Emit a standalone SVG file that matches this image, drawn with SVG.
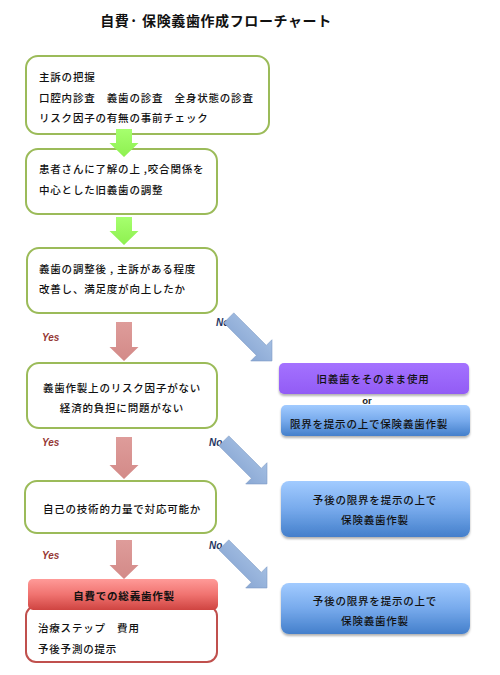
<svg xmlns="http://www.w3.org/2000/svg" width="500" height="675" viewBox="0 0 500 675">
<defs>
<style>
.t{font-family:"Noto Sans CJK JP","Noto Sans",sans-serif;font-size:10.5px;font-weight:500;letter-spacing:0.8px;fill:#111}
.c{text-anchor:middle}
.b{font-weight:bold}
.gbox{fill:#fff;stroke:#9BBB59;stroke-width:2}
.rbox{fill:#fff;stroke:#C0504D;stroke-width:2}
.yes{font-family:"Liberation Sans",Arial,sans-serif;font-size:10px;font-style:italic;font-weight:bold;fill:#953735}
.no{font-family:"Liberation Sans",Arial,sans-serif;font-size:10px;font-style:italic;font-weight:bold;fill:#1F3864}
.ga{fill:url(#gGreen)}
.pa{fill:url(#gPink)}
.ba{fill:url(#gBlue);stroke:#7F9CC6;stroke-width:0.6}
</style>
<linearGradient id="gGreen" x1="0" y1="0" x2="0" y2="1"><stop offset="0" stop-color="#A6FF6E"/><stop offset="1" stop-color="#8EF050"/></linearGradient>
<linearGradient id="gPink" x1="0" y1="0" x2="0" y2="1"><stop offset="0" stop-color="#DE9C9A"/><stop offset="1" stop-color="#D38A88"/></linearGradient>
<linearGradient id="gBlue" x1="0" y1="0" x2="0" y2="1"><stop offset="0" stop-color="#A3BEE2"/><stop offset="1" stop-color="#8AA8D4"/></linearGradient>
<linearGradient id="gPurple" x1="0" y1="0" x2="0" y2="1"><stop offset="0" stop-color="#A472FF"/><stop offset="1" stop-color="#925CF5"/></linearGradient>
<linearGradient id="gBox" x1="0" y1="0" x2="0" y2="1"><stop offset="0" stop-color="#A2CBFF"/><stop offset="0.5" stop-color="#77AAEC"/><stop offset="1" stop-color="#447FCB"/></linearGradient>
<linearGradient id="gRed" x1="0" y1="0" x2="0" y2="1"><stop offset="0" stop-color="#FF9A98"/><stop offset="0.5" stop-color="#F07370"/><stop offset="1" stop-color="#CF4441"/></linearGradient>
<filter id="sh" x="-10%" y="-20%" width="120%" height="150%"><feDropShadow dx="0" dy="2" stdDeviation="1.2" flood-color="#000" flood-opacity="0.3"/></filter>
<path id="vArrow" d="M-8,0 H8 V14 H14.5 L0,28 L-14.5,14 H-8 Z"/>
<path id="dArrow" d="M4,-7 H50 V-15 L65,0 L50,15 V7 H4 Z"/>
</defs>

<text class="t b" x="216" y="26" style="font-size:14px;letter-spacing:0.6px" text-anchor="middle">自費· 保険義歯作成フローチャート</text>

<g id="node1">
<rect class="gbox" x="26" y="56" width="243" height="78" rx="12"/>
<text class="t" x="39" y="81">主訴の把握</text>
<text class="t" x="39" y="102">口腔内診査　義歯の診査　全身状態の診査</text>
<text class="t" x="39" y="122">リスク因子の有無の事前チェック</text>
</g>

<g id="node2">
<rect class="gbox" x="26" y="149" width="191" height="65" rx="12"/>
<text class="t" x="39" y="173">患者さんに了解の上 ,咬合関係を</text>
<text class="t" x="39" y="194">中心とした旧義歯の調整</text>
</g>

<g id="node3">
<rect class="gbox" x="27" y="248" width="190" height="65" rx="12"/>
<text class="t" x="39" y="273">義歯の調整後 , 主訴がある程度</text>
<text class="t" x="39" y="293">改善し、満足度が向上したか</text>
</g>

<g id="node4">
<rect class="gbox" x="27" y="363" width="190" height="65" rx="12"/>
<text class="t c" x="122" y="392">義歯作製上のリスク因子がない</text>
<text class="t c" x="122" y="412">経済的負担に問題がない</text>
</g>

<g id="node5">
<rect class="gbox" x="25" y="481" width="191" height="52" rx="12"/>
<text class="t c" x="122" y="513">自己の技術的力量で対応可能か</text>
</g>

<g id="node6">
<rect class="rbox" x="26" y="606" width="191" height="56" rx="10"/>
<rect x="28" y="579" width="190" height="31" rx="5" fill="url(#gRed)"/>
<text class="t c b" x="124" y="600">自費での総義歯作製</text>
<text class="t" x="38" y="632">治療ステップ　費用</text>
<text class="t" x="38" y="653">予後予測の提示</text>
</g>

<g id="node7">
<rect x="279" y="363" width="190" height="31" rx="5" fill="url(#gPurple)" filter="url(#sh)"/>
<text class="t c" x="373" y="383">旧義歯をそのまま使用</text>
<text x="367" y="404" text-anchor="middle" style="font-family:'Liberation Sans',Arial,sans-serif;font-size:9.5px;font-weight:bold;fill:#222">or</text>
<rect x="281" y="405" width="189" height="31" rx="5" fill="url(#gBox)" filter="url(#sh)"/>
<text class="t c" x="369" y="428">限界を提示の上で保険義歯作製</text>
</g>

<g id="node8">
<rect x="281" y="481" width="189" height="56" rx="8" fill="url(#gBox)" filter="url(#sh)"/>
<text class="t c" x="375" y="504">予後の限界を提示の上で</text>
<text class="t c" x="375" y="524">保険義歯作製</text>
</g>

<g id="node9">
<rect x="281" y="583" width="189" height="51" rx="8" fill="url(#gBox)" filter="url(#sh)"/>
<text class="t c" x="375" y="605">予後の限界を提示の上で</text>
<text class="t c" x="375" y="625">保険義歯作製</text>
</g>

<g id="labels">
<text class="yes" x="42" y="341">Yes</text>
<text class="yes" x="42" y="446">Yes</text>
<text class="yes" x="42" y="559">Yes</text>
<text class="no" x="216" y="326">No</text>
<text class="no" x="209" y="446">No</text>
<text class="no" x="209" y="549">No</text>
</g>

<g id="connectors">
<use href="#vArrow" class="ga" transform="translate(124,129)"/>
<use href="#vArrow" class="ga" transform="translate(124,217)"/>
<path class="pa" d="M116,322 H132 V347 H138.5 L124,361 L109.5,347 H116 Z"/>
<path class="pa" d="M116,437 H132 V465 H138.5 L124,479 L109.5,465 H116 Z"/>
<path class="pa" d="M116,540 H132 V565 H138.5 L124,579 L109.5,565 H116 Z"/>
<use href="#dArrow" class="ba" transform="translate(226,315) rotate(45)"/>
<use href="#dArrow" class="ba" transform="translate(221,438) rotate(45)"/>
<use href="#dArrow" class="ba" transform="translate(221,542) rotate(45)"/>
</g>
</svg>
